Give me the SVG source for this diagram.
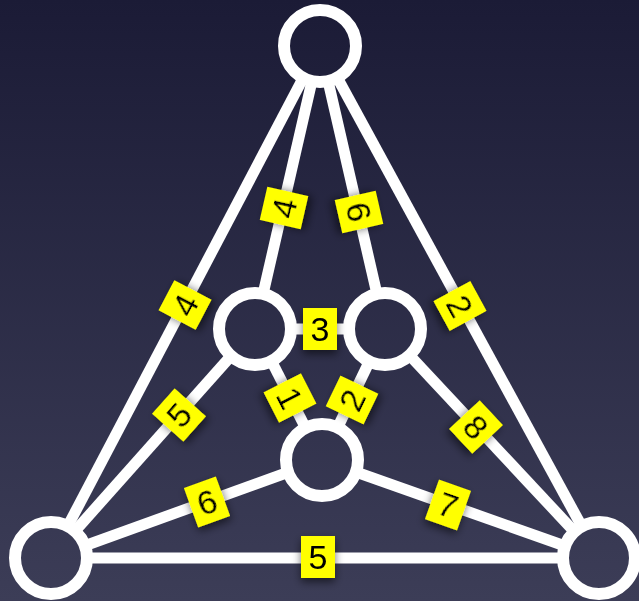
<svg xmlns="http://www.w3.org/2000/svg" width="639" height="601" viewBox="0 0 639 601">
  <defs>
    <linearGradient id="bg" gradientUnits="userSpaceOnUse" x1="0" y1="0" x2="0" y2="601">
      <stop offset="0" stop-color="#1b1b36"/>
      <stop offset="1" stop-color="#3c3d57"/>
    </linearGradient>
    <filter id="sh" x="-50%" y="-50%" width="200%" height="200%">
      <feDropShadow dx="0" dy="4" stdDeviation="4" flood-color="#000" flood-opacity="0.55"/>
    </filter>
    <style>
      .edge { stroke: #ffffff; stroke-width: 11; fill: none; }
      .node { stroke: #ffffff; stroke-width: 12; fill: url(#bg); }
      .lbl rect { fill: #ffff00; }
      .lbl { filter: url(#sh); }
      .lbl text { font-family: "Liberation Sans", Arial, sans-serif; font-size: 34px; fill: #000; text-anchor: middle; }
    </style>
  </defs>
  <rect x="0" y="0" width="639" height="601" fill="url(#bg)"/>

  <g id="connectors">
    <line class="edge" x1="320" y1="46" x2="51" y2="558"/>
    <line class="edge" x1="320" y1="46" x2="255" y2="329"/>
    <line class="edge" x1="320" y1="46" x2="385" y2="329"/>
    <line class="edge" x1="320" y1="46" x2="599" y2="558"/>
    <line class="edge" x1="255" y1="329" x2="385" y2="329"/>
    <line class="edge" x1="255" y1="329" x2="51" y2="558"/>
    <line class="edge" x1="255" y1="329" x2="322" y2="460"/>
    <line class="edge" x1="385" y1="329" x2="322" y2="460"/>
    <line class="edge" x1="385" y1="329" x2="599" y2="558"/>
    <line class="edge" x1="51" y1="558" x2="322" y2="460"/>
    <line class="edge" x1="322" y1="460" x2="599" y2="558"/>
    <line class="edge" x1="51" y1="558" x2="599" y2="558"/>
  </g>

  <g id="node-top"><circle class="node" cx="320" cy="46" r="36"/></g>
  <g id="node-left-mid"><circle class="node" cx="255" cy="329" r="36"/></g>
  <g id="node-right-mid"><circle class="node" cx="385" cy="329" r="36"/></g>
  <g id="node-center"><circle class="node" cx="322" cy="460" r="36"/></g>
  <g id="node-bottom-left"><circle class="node" cx="51" cy="558" r="36"/></g>
  <g id="node-bottom-right"><circle class="node" cx="599" cy="558" r="36"/></g>

  <g id="labels">
    <g class="lbl" transform="translate(185,305) rotate(-62.3)"><rect x="-17" y="-21" width="34" height="42"/><text y="12">4</text></g>
    <g class="lbl" transform="translate(284,208) rotate(-77.1)"><rect x="-17" y="-21" width="34" height="42"/><text y="12">4</text></g>
    <g class="lbl" transform="translate(359,212) rotate(77.1)"><rect x="-17" y="-21" width="34" height="42"/><text y="12">6</text></g>
    <g class="lbl" transform="translate(460,306) rotate(61.4)"><rect x="-17" y="-21" width="34" height="42"/><text y="12">2</text></g>
    <g class="lbl" transform="translate(320,329)"><rect x="-17" y="-21" width="34" height="42"/><text y="12">3</text></g>
    <g class="lbl" transform="translate(179,415) rotate(-48.3)"><rect x="-17" y="-21" width="34" height="42"/><text y="12">5</text></g>
    <g class="lbl" transform="translate(290,398) rotate(62.9)"><rect x="-17" y="-21" width="34" height="42"/><text y="12">1</text></g>
    <g class="lbl" transform="translate(352,400) rotate(-64.3)"><rect x="-17" y="-21" width="34" height="42"/><text y="12">2</text></g>
    <g class="lbl" transform="translate(476,427) rotate(46.9)"><rect x="-17" y="-21" width="34" height="42"/><text y="12">8</text></g>
    <g class="lbl" transform="translate(207,502) rotate(-19.9)"><rect x="-17" y="-21" width="34" height="42"/><text y="12">6</text></g>
    <g class="lbl" transform="translate(448,505) rotate(19.5)"><rect x="-17" y="-21" width="34" height="42"/><text y="12">7</text></g>
    <g class="lbl" transform="translate(318,557)"><rect x="-17" y="-21" width="34" height="42"/><text y="12">5</text></g>
  </g>
</svg>
